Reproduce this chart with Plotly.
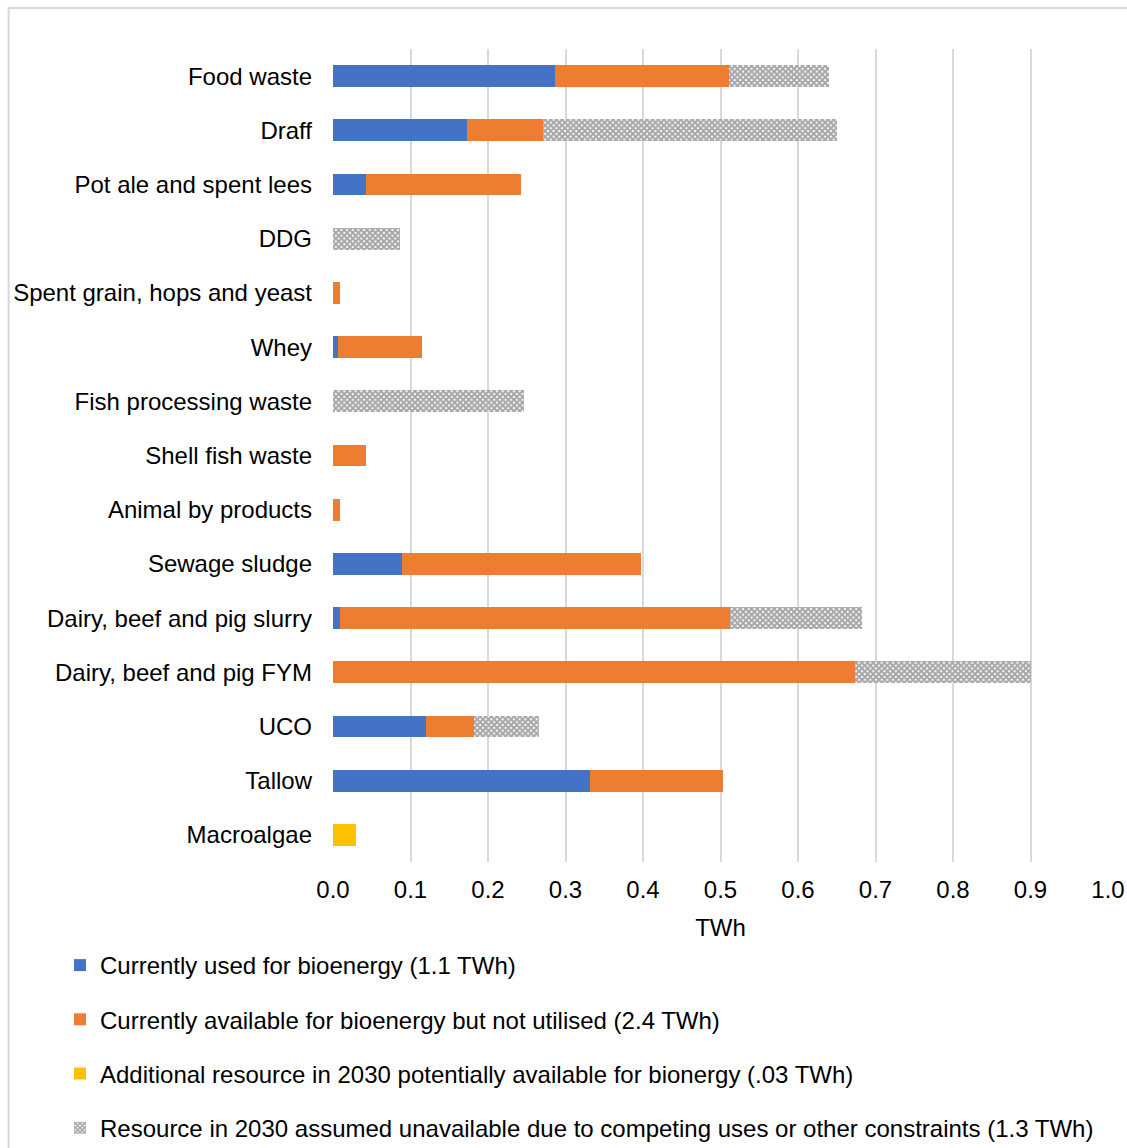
import plotly.graph_objects as go

# Feedstock categories, listed top to bottom
categories = [
    "Food waste", "Draff", "Pot ale and spent lees", "DDG",
    "Spent grain, hops and yeast", "Whey", "Fish processing waste",
    "Shell fish waste", "Animal by products", "Sewage sludge",
    "Dairy, beef and pig slurry", "Dairy, beef and pig FYM", "UCO",
    "Tallow", "Macroalgae",
]

# Resource by category (TWh)
used_now = [0.286, 0.173, 0.043, 0, 0, 0.0065, 0, 0, 0, 0.089, 0.009, 0, 0.120, 0.332, 0]
available_unused = [0.225, 0.098, 0.200, 0, 0.009, 0.108, 0, 0.043, 0.009, 0.308, 0.503, 0.674, 0.062, 0.171, 0]
additional_2030 = [0, 0, 0, 0, 0, 0, 0, 0, 0, 0, 0, 0, 0, 0, 0.030]
unavailable_2030 = [0.129, 0.379, 0, 0.087, 0, 0, 0.246, 0, 0, 0, 0.171, 0.226, 0.084, 0, 0]

series_names = [
    "Currently used for bioenergy (1.1 TWh)",
    "Currently available for bioenergy but not utilised (2.4 TWh)",
    "Additional resource in 2030 potentially available for bionergy (.03 TWh)",
    "Resource in 2030 assumed unavailable due to competing uses or other constraints (1.3 TWh)",
]

x_ticks = [0.0, 0.1, 0.2, 0.3, 0.4, 0.5, 0.6, 0.7, 0.8, 0.9, 1.0]
x_tick_text = ["0.0", "0.1", "0.2", "0.3", "0.4", "0.5", "0.6", "0.7", "0.8", "0.9", "1.0"]

FONT = "Liberation Sans, Arial, sans-serif"
GRID = "#D9D9D9"
FS = 24

fig = go.Figure()

solid = [
    (used_now, "#4472C4"),
    (available_unused, "#ED7D31"),
    (additional_2030, "#FFC000"),
]
for i, (vals, colour) in enumerate(solid):
    fig.add_trace(go.Bar(
        y=categories, x=vals, orientation="h", name=series_names[i],
        legendgroup=f"g{i}",
        marker=dict(color=colour, line=dict(width=0)),
    ))

fig.add_trace(go.Bar(
    y=categories, x=unavailable_2030, orientation="h", name=series_names[3],
    legendgroup="g3",
    marker=dict(
        color="#A6A6A6",
        line=dict(width=0),
        pattern=dict(shape="x", fgcolor="#A6A6A6", bgcolor="white",
                     size=4, solidity=0.75, fillmode="replace"),
    ),
))

fig.update_layout(
    width=1127, height=1148,
    margin=dict(l=333, r=19, t=49, b=286, autoexpand=False),
    barmode="stack", bargap=0.6,
    plot_bgcolor="white", paper_bgcolor="white",
    font=dict(family=FONT, size=FS, color="#000000"),
    showlegend=True,
    legend=dict(
        orientation="v",
        xref="container", x=60 / 1127, xanchor="left",
        yref="container", y=1 - 943 / 1148, yanchor="top",
        traceorder="grouped", tracegroupgap=20,
        font=dict(family=FONT, size=FS, color="#000000"),
        itemwidth=30, bgcolor="rgba(0,0,0,0)",
    ),
    xaxis=dict(
        range=[0, 1.0], tickvals=x_ticks, ticktext=x_tick_text,
        showgrid=True, gridcolor=GRID, gridwidth=2,
        zeroline=False, showline=False, ticks="",
        ticklabelstandoff=11, automargin=False,
        title=dict(text="TWh", standoff=17, font=dict(size=FS)),
        tickfont=dict(size=FS),
    ),
    yaxis=dict(
        autorange="reversed", showgrid=False, zeroline=False,
        showline=False, ticks="", ticklabelstandoff=20, automargin=False,
        tickfont=dict(size=FS),
    ),
    shapes=[
        # outer chart frame
        dict(type="rect", xref="paper", yref="paper",
             x0=-0.4185, x1=1.04, y0=-0.37, y1=1.0504,
             line=dict(color=GRID, width=2), fillcolor="rgba(0,0,0,0)",
             layer="below"),
    ],
)

fig.write_html("out.html")
